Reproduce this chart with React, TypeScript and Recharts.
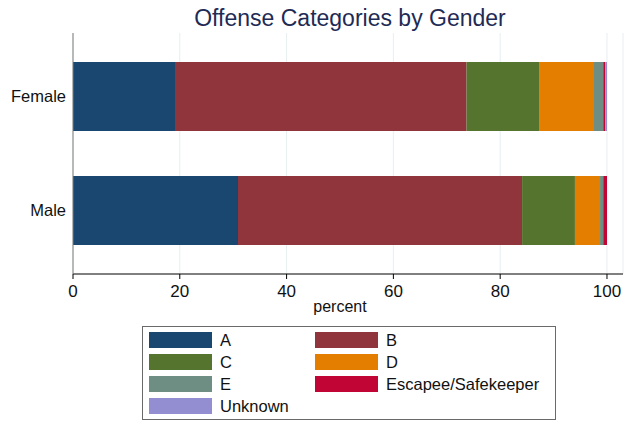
import React from "react";
import { BarChart, Bar, XAxis, YAxis, CartesianGrid } from "recharts";

const genders = ["Female", "Male"];
const seriesNames = ["A", "B", "C", "D", "E", "Escapee/Safekeeper", "Unknown"];
const seriesColors = ["#1a476f", "#90353b", "#55752f", "#e37e00", "#6e8e84", "#c10534", "#938dd2"];
// percent of each gender in each offense category
const femaleValues = [19.1, 54.6, 13.7, 10.0, 1.9, 0.4, 0.3];
const maleValues = [30.9, 53.2, 9.9, 4.7, 0.6, 0.7, 0.0];
const xTicks = [0, 20, 40, 60, 80, 100];

const valuesByGender = [femaleValues, maleValues];

const data = genders.map((g, gi) => {
  const row: any = { gender: g };
  seriesNames.forEach((_, si) => {
    row["s" + si] = valuesByGender[gi][si];
  });
  return row;
});

const FONT = "'Liberation Sans', Arial, sans-serif";

// legend layout: two columns, filled row by row
const Legend2 = () => (
  <div
    style={{
      position: "absolute",
      left: 142,
      top: 326,
      width: 414,
      height: 94,
      border: "1px solid #6a6a6a",
      background: "#fff",
      boxSizing: "border-box",
    }}
  >
    {seriesNames.map((name, i) => {
      const col = i % 2;
      const row = Math.floor(i / 2);
      return (
        <div
          key={name}
          style={{
            position: "absolute",
            left: col === 0 ? 6 : 172,
            top: 5 + row * 22,
            height: 16,
            display: "flex",
            alignItems: "center",
            whiteSpace: "nowrap",
          }}
        >
          <div style={{ width: 63, height: 15.5, background: seriesColors[i] }} />
          <span
            style={{
              marginLeft: 8,
              fontFamily: FONT,
              fontSize: 16.5,
              color: "#111",
              lineHeight: "16px",
            }}
          >
            {name}
          </span>
        </div>
      );
    })}
  </div>
);

export default function App() {
  return (
    <div
      style={{
        position: "absolute",
        left: 0,
        top: 0,
        width: 629,
        height: 421,
        background: "#fff",
        fontFamily: FONT,
      }}
    >
      <BarChart
        width={629}
        height={421}
        data={data}
        layout="vertical"
        margin={{ top: 33, right: 6, bottom: 117, left: 8 }}
        barSize={69}
      >
        <text
          x={350}
          y={26}
          textAnchor="middle"
          fontSize={23}
          fill="#1e2b55"
          fontFamily={FONT}
        >
          Offense Categories by Gender
        </text>
        <CartesianGrid horizontal={false} vertical={true} stroke="#e6eff1" strokeWidth={1} />
        <XAxis
          type="number"
          domain={[0, 103]}
          ticks={xTicks}
          allowDecimals={false}
          height={30}
          axisLine={{ stroke: "#000", strokeWidth: 1 }}
          tickLine={{ stroke: "#000" }}
          tickSize={5}
          tickMargin={6}
          tick={{ fill: "#111", fontSize: 17, fontFamily: FONT }}
          label={{
            value: "percent",
            position: "insideBottom",
            offset: -8,
            dx: -8,
            fill: "#111",
            fontSize: 16,
            fontFamily: FONT,
          }}
        />
        <YAxis
          type="category"
          dataKey="gender"
          width={65}
          padding={{ top: 6, bottom: 7 }}
          axisLine={{ stroke: "#7a7a7a", strokeWidth: 1 }}
          tickLine={false}
          tickSize={0}
          tickMargin={7}
          tick={{ fill: "#111", fontSize: 16.5, fontFamily: FONT }}
        />
        {seriesNames.map((name, i) => (
          <Bar
            key={name}
            dataKey={"s" + i}
            name={name}
            stackId="g"
            fill={seriesColors[i]}
            isAnimationActive={false}
          />
        ))}
      </BarChart>
      <Legend2 />
    </div>
  );
}
